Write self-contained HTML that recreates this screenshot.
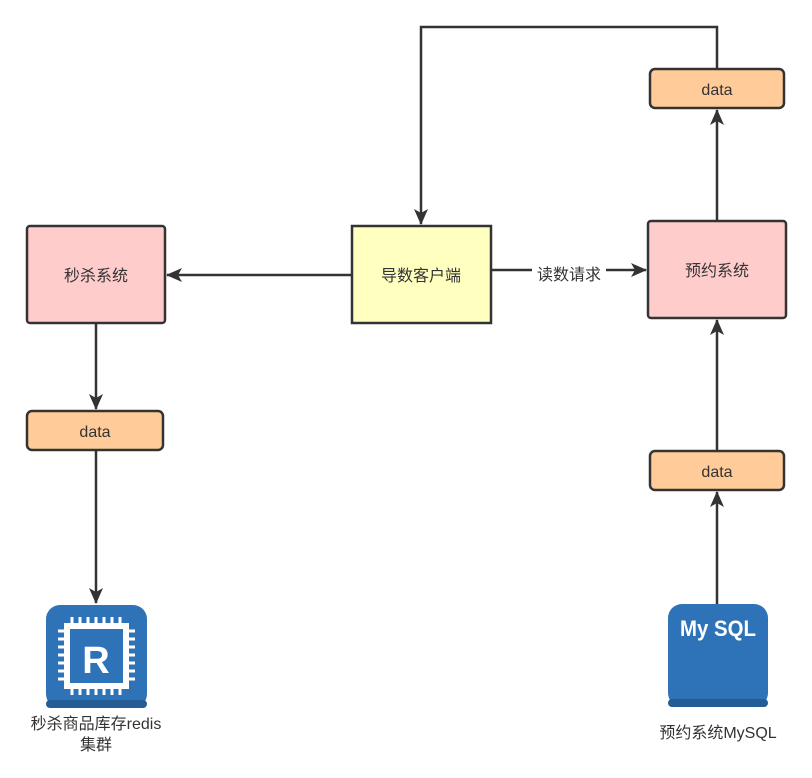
<!DOCTYPE html>
<html><head><meta charset="utf-8"><style>
body{margin:0;background:#fff;width:812px;height:773px;overflow:hidden}
text{font-family:"Liberation Sans","Noto Sans CJK SC",sans-serif;fill:#333}
</style></head><body>
<svg width="812" height="773" viewBox="0 0 812 773">
<defs>
<marker id="b" markerWidth="16" markerHeight="16" refX="15" refY="8" orient="auto" markerUnits="userSpaceOnUse"><path d="M0,1 L16,8 L0,15 L4,8z" fill="#333"/></marker></defs>
<g stroke="#333" stroke-width="2.5" fill="none">
<path d="M717,69 V27 H421 V224" marker-end="url(#b)"/>
<path d="M352,275 H167" marker-end="url(#b)"/>
<path d="M491,270 H646" marker-end="url(#b)"/>
<path d="M96,323 V409" marker-end="url(#b)"/>
<path d="M96,450 V603" marker-end="url(#b)"/>
<path d="M717,221 V110" marker-end="url(#b)"/>
<path d="M717,451 V320" marker-end="url(#b)"/>
<path d="M717,604 V492" marker-end="url(#b)"/>
</g>
<rect x="532" y="261" width="74" height="20" fill="#fff"/>
<text x="569" y="280" font-size="16" text-anchor="middle">读数请求</text>
<g stroke="#333" stroke-width="2.5">
<rect x="27" y="226" width="138" height="97" rx="3" fill="#ffcccc"/>
<rect x="352" y="226" width="139" height="97" fill="#ffffc0"/>
<rect x="648" y="221" width="138" height="97" rx="3" fill="#ffcccc"/>
<rect x="27" y="411" width="136" height="39" rx="5" fill="#ffcc99"/>
<rect x="650" y="69" width="134" height="39" rx="5" fill="#ffcc99"/>
<rect x="650" y="451" width="134" height="39" rx="5" fill="#ffcc99"/>
</g>
<g font-size="16" text-anchor="middle">
<text x="96" y="281">秒杀系统</text>
<text x="421" y="281">导数客户端</text>
<text x="717" y="276">预约系统</text>
<text x="95" y="437">data</text>
<text x="717" y="95">data</text>
<text x="717" y="477">data</text>
</g>
<rect x="46" y="605" width="101" height="103" rx="14" fill="#2e73b8"/>
<rect x="46" y="700" width="101" height="8" rx="4" fill="#245d95"/>
<rect x="67" y="626" width="59" height="60" fill="none" stroke="#fff" stroke-width="6"/>
<g stroke="#fff" stroke-width="3">
<path d="M72,617v8M80,617v8M88,617v8M96,617v8M104,617v8M112,617v8M120,617v8"/>
<path d="M72,687v8M80,687v8M88,687v8M96,687v8M104,687v8M112,687v8M120,687v8"/>
<path d="M58,631h8M58,639h8M58,647h8M58,655h8M58,663h8M58,671h8M58,679h8"/>
<path d="M127,631h8M127,639h8M127,647h8M127,655h8M127,663h8M127,671h8M127,679h8"/>
</g>
<text x="96" y="673" font-size="38" font-weight="bold" text-anchor="middle" style="fill:#fff">R</text>
<text x="96" y="729" font-size="16" text-anchor="middle">秒杀商品库存redis</text>
<text x="96" y="750" font-size="16" text-anchor="middle">集群</text>
<rect x="668" y="604" width="100" height="103" rx="14" fill="#2e73b8"/>
<rect x="668" y="699" width="100" height="8" rx="4" fill="#245d95"/>
<text x="718" y="636" font-size="22" font-weight="bold" text-anchor="middle" textLength="76" lengthAdjust="spacingAndGlyphs" style="fill:#fff">My SQL</text>
<text x="718" y="738" font-size="16" text-anchor="middle">预约系统MySQL</text>
</svg>
</body></html>
